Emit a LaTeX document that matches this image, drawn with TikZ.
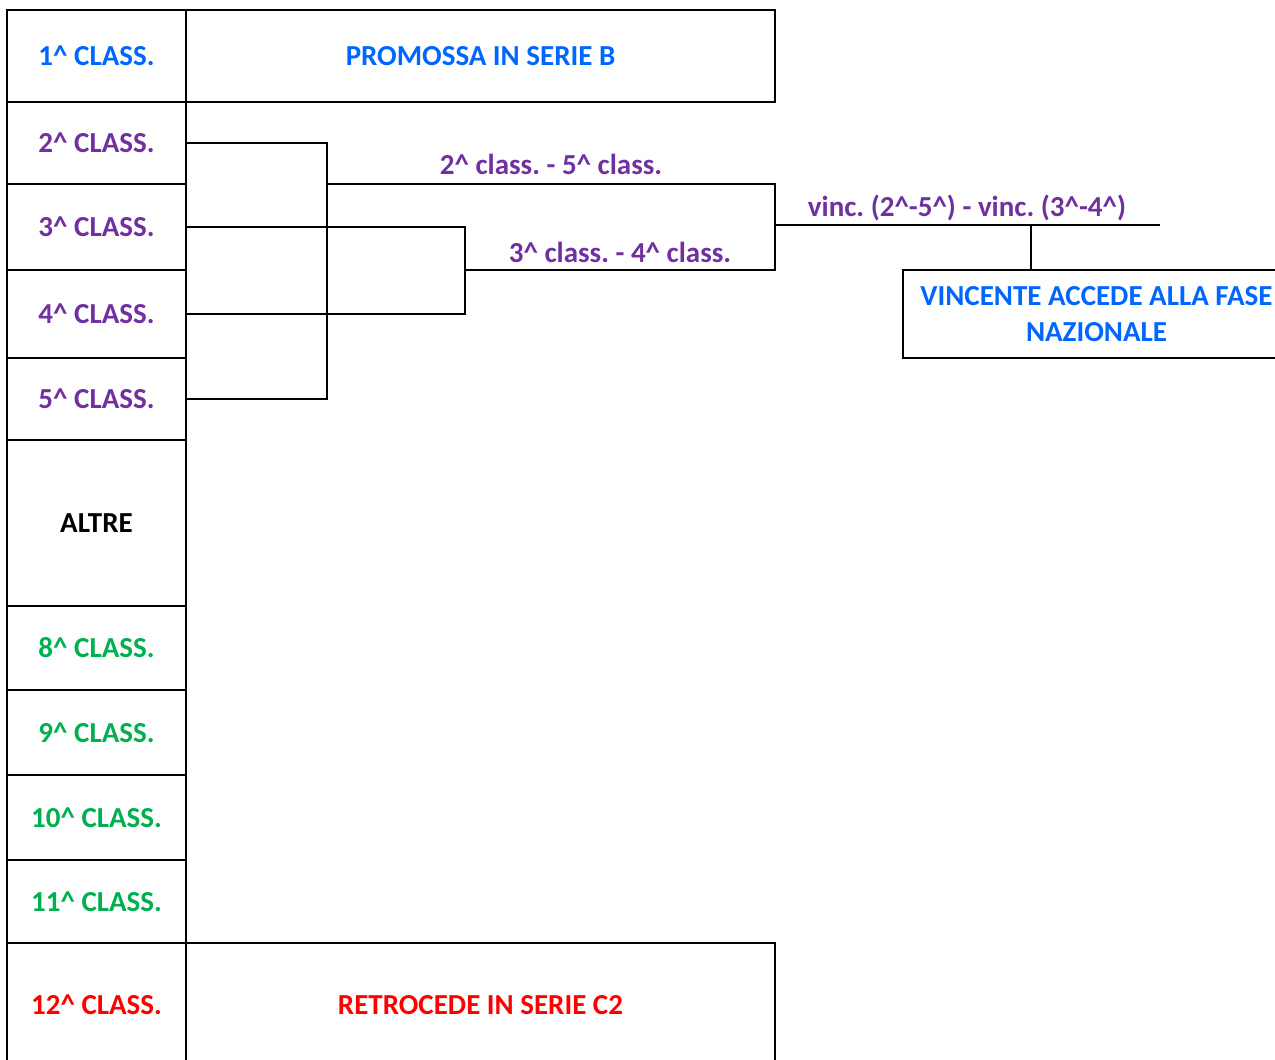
\documentclass[tikz,border=0pt]{standalone}
\usepackage{fontspec}
\setmainfont{Carlito}
\usetikzlibrary{positioning}
\frenchspacing

\definecolor{blu}{RGB}{0,102,255}
\definecolor{viola}{RGB}{112,48,160}
\definecolor{verde}{RGB}{0,176,80}
\definecolor{rosso}{RGB}{255,0,0}

\tikzstyle{testo}=[font=\bfseries\fontsize{29}{36}\selectfont, inner sep=0pt]
\tikzstyle{cella}=[testo, draw, line width=1.6pt, minimum width=179pt]
\tikzstyle{casella}=[testo, draw, line width=1.6pt, align=center]
\tikzstyle{linea}=[draw, line width=1.6pt]
\tikzstyle{grossa}=[draw, line width=2.8pt]
\newcommand{\apice}{\textasciicircum}

\begin{document}
\begin{tikzpicture}[x=1pt, y=-1pt]
    \useasboundingbox (0,0) rectangle (1275,1060);
    % colonna della classifica
    \foreach \top/\bot/\name/\col/\txt in {10/102/c1/blu/1\apice{} CLASS., 102/184/c2/viola/2\apice{} CLASS.,
        184/270/c3/viola/3\apice{} CLASS., 270/358/c4/viola/4\apice{} CLASS., 358/440/c5/viola/5\apice{} CLASS.,
        440/606/altre/black/ALTRE, 606/690/c8/verde/8\apice{} CLASS., 690/775/c9/verde/9\apice{} CLASS.,
        775/860/c10/verde/10\apice{} CLASS., 860/943/c11/verde/11\apice{} CLASS., 943/1067/c12/rosso/12\apice{} CLASS.}
        \node[cella, text=\col, minimum height=\bot-\top] (\name) at (96.5, {(\top+\bot)/2}) {\txt};

    % esiti
    \node[casella, text=blu, minimum width=589pt, minimum height=92pt] (promo) at (480.5,56) {PROMOSSA IN SERIE B};
    \node[casella, text=rosso, minimum width=589pt, minimum height=124pt] (retro) at (480.5,1005) {RETROCEDE IN SERIE C2};
    \node[casella, text=blu, minimum width=387pt, minimum height=88pt] (vinc) at (1096.5,314) {VINCENTE ACCEDE ALLA FASE\\NAZIONALE};

    % tabellone play-off
    \coordinate (b25) at (327,184);
    \coordinate (b34) at (465,270);
    \coordinate (fin) at (775,225);
    \coordinate (nodo) at (1031,225);
    \coordinate (coda) at (1160,225);
    \path[linea] (c2.east) -| (b25) |- (c5.east);
    \path[grossa] (c3.east) -| (b34) |- (c4.east);
    \path[linea] (b25) -| (fin);
    \path[grossa] (b34) -| (fin);
    \path[linea] (fin) -- (coda);
    \path[linea] (nodo) -- (nodo |- vinc.north);

    \node[testo, text=viola] (g25) at (551,164) {2\apice{} class. - 5\apice{} class.};
    \node[testo, text=viola] (g34) at (620,252) {3\apice{} class. - 4\apice{} class.};
    \node[testo, text=viola] (gfin) at (967,208) {vinc. (2\apice-5\apice) - vinc. (3\apice-4\apice)};
\end{tikzpicture}
\end{document}
